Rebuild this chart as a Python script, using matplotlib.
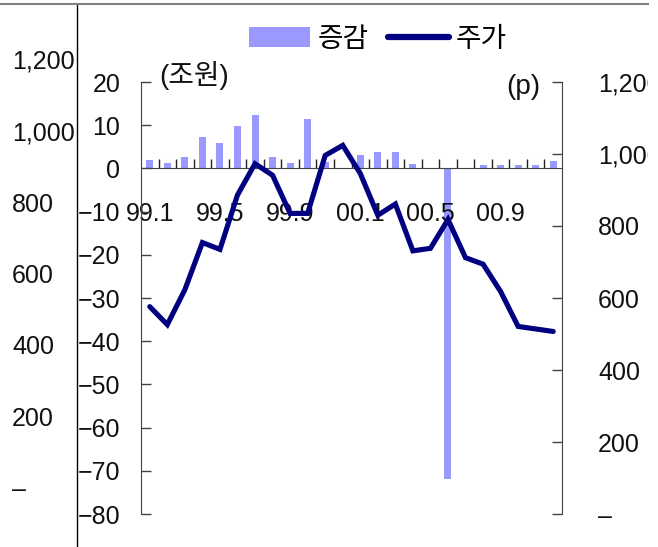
import matplotlib
matplotlib.use("Agg")
import matplotlib.pyplot as plt
from matplotlib.lines import Line2D
from matplotlib.patches import Rectangle, Patch

plt.rcParams['font.family'] = ['Liberation Sans', 'Noto Sans CJK KR', 'DejaVu Sans']

# ---- data ----
months = ["99.1", "99.2", "99.3", "99.4", "99.5", "99.6", "99.7", "99.8", "99.9", "99.10", "99.11", "99.12",
          "00.1", "00.2", "00.3", "00.4", "00.5", "00.6", "00.7", "00.8", "00.9", "00.10", "00.11", "00.12"]
change = [2.0, 1.2, 2.7, 7.3, 5.8, 9.8, 12.3, 2.7, 1.2, 11.4, 1.5, 0.0,
          3.0, 3.7, 3.7, 1.1, 0.0, -72.0, 0.0, 0.7, 0.7, 0.7, 0.7, 1.7]
price = [576, 526, 623, 754, 735, 886, 973, 941, 835, 835, 996, 1024,
         946, 830, 861, 731, 738, 818, 712, 694, 618, 521, 514, 507]
label_every = 4
left_ticks = list(range(-80, 21, 10))
right_ticks = list(range(0, 1201, 200))
right_ticklabels = ["–", "200", "400", "600", "800", "1,000", "1,200"]
legend_labels = ["증감", "주가"]
unit_left = "(조원)"
unit_right = "(p)"

W, H = 658, 547
fig = plt.figure(figsize=(W / 100, H / 100), dpi=100)

def fx(px):
    return px / W

def fy(py):
    return 1 - py / H

ax = fig.add_axes([fx(141), fy(514), fx(562) - fx(141), fy(82) - fy(514)])
ax2 = ax.twinx()

x = list(range(len(months)))
bar_color = '#9999FF'
line_color = '#000080'
txt_c = '#111111'
ax.bar(x, change, width=0.4, color=bar_color, zorder=1)
ax.set_xlim(-0.5, len(months) - 0.5)
ax.set_ylim(-80, 20)

ax2.plot(x, price, color=line_color, lw=3.7, solid_joinstyle='miter', solid_capstyle='round')
ax2.set_ylim(0, 1200)

spine_c = '#444444'
for s in ['top', 'right']:
    ax.spines[s].set_visible(False)
ax.spines['left'].set_color(spine_c)
ax.spines['bottom'].set_position(('data', 0))
ax.spines['bottom'].set_color(spine_c)
for s in ['top', 'left', 'bottom']:
    ax2.spines[s].set_visible(False)
ax2.spines['right'].set_color(spine_c)

fs = 18
ax.set_yticks(left_ticks)
ax.set_yticklabels([("−" + str(-v)) if v < 0 else str(v) for v in left_ticks], fontsize=fs, color=txt_c)
ax.tick_params(axis='y', direction='in', length=7, width=1, color=spine_c, pad=15)

ax.set_xticks(x[::label_every])
ax.set_xticklabels(months[::label_every], fontsize=fs, color=txt_c)
ax.set_xticks([i + 0.5 for i in range(len(months) - 1)], minor=True)
ax.tick_params(axis='x', which='major', length=0, pad=24)
ax.tick_params(axis='x', which='minor', direction='in', length=6.5, width=1, color='#222222')

ax2.set_yticks(right_ticks)
ax2.set_yticklabels(right_ticklabels, fontsize=fs, color=txt_c)
ax2.tick_params(axis='y', direction='in', length=7, width=1, color=spine_c, pad=26)

# unit labels
fig.text(fx(159), fy(76), unit_left, fontsize=20, va='center', ha='left', color=txt_c)
fig.text(fx(540), fy(87), unit_right, fontsize=20, va='center', ha='right', color=txt_c)

# stray left scale labels
for i, lab in enumerate(right_ticklabels[::-1]):
    fig.text(fx(12), fy(62 + 71.3 * i), lab, fontsize=fs, va='center', ha='left', color=txt_c)

# legend
handles = [Patch(facecolor=bar_color, edgecolor='none'),
           Line2D([0], [0], color=line_color, lw=4.5, solid_capstyle='round')]
fig.legend(handles, legend_labels, loc='center', bbox_to_anchor=(fx(378), fy(40)), ncol=2,
           frameon=False, fontsize=20, handlelength=2.2, handleheight=0.75,
           handletextpad=0.25, columnspacing=0.7, borderpad=0, borderaxespad=0)

# frame lines
fig.add_artist(Line2D([fx(76.5), fx(76.5)], [0, fy(3.5)], color='black', lw=1.0, transform=fig.transFigure))
fig.add_artist(Rectangle((fx(648), 0), 1 - fx(648), 1, transform=fig.transFigure,
                         facecolor='white', edgecolor='none', zorder=10))
fig.add_artist(Line2D([0, fx(648)], [fy(3.5), fy(3.5)], color='#7f7f7f', lw=1.5, transform=fig.transFigure, zorder=11))

fig.savefig("out.png", dpi=100)
